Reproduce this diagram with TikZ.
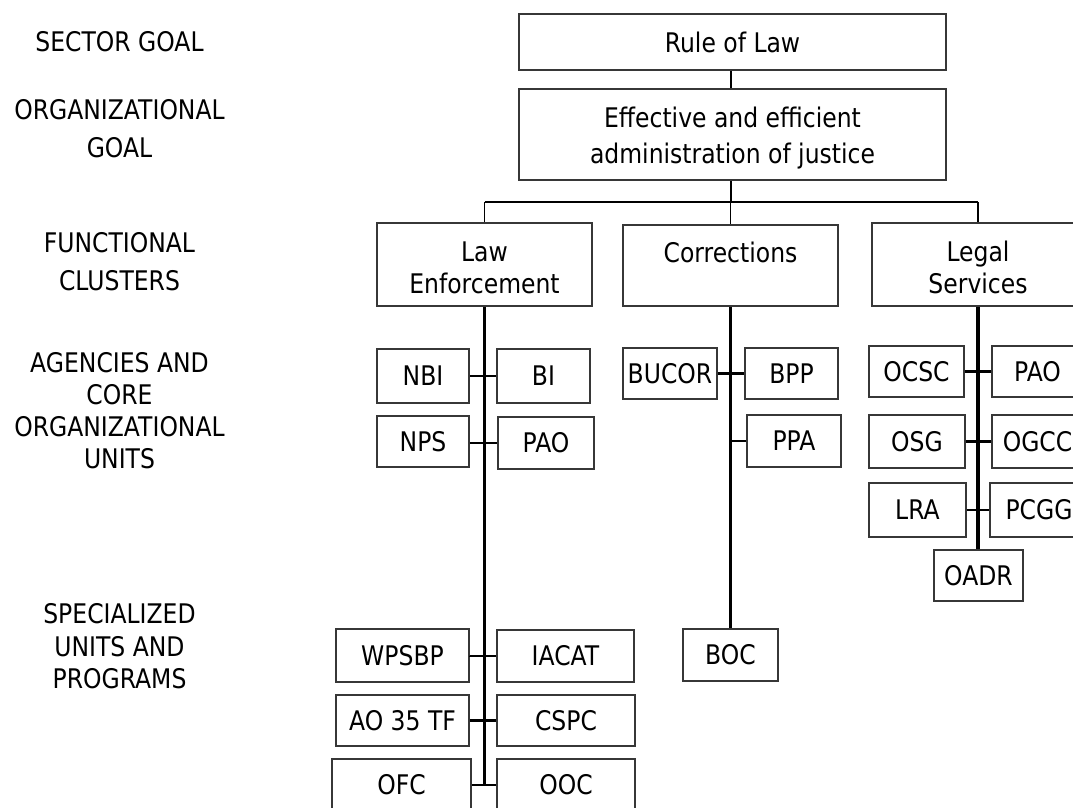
\documentclass[tikz,border=0pt]{standalone}
\usepackage{fontspec}
\setmainfont{DejaVu Sans}[FakeStretch=0.87]
\definecolor{boxgray}{RGB}{55,55,55}
\newcommand\fsz[1]{\fontsize{27}{#1}\selectfont}
\tikzset{
  boxn/.style={draw=boxgray, line width=1.6pt, rectangle, inner sep=0pt, font={\fsz{32}}},
  txt/.style={align=center, inner sep=0pt},
  conn/.style={line width=1.6pt, draw=black},
  side/.style={line width=2.2pt, draw=black},
  busline/.style={line width=2.4pt, draw=black},
  trunk/.style={line width=3.4pt, draw=black}
}
\begin{document}
\begin{tikzpicture}[x=1pt,y=-1pt]
\useasboundingbox (0,0) rectangle (1073,807);
\clip (0,0) rectangle (1073,807);
% left labels
\node[txt, font={\fsz{32}}] (l1) at (119.5,42) {SECTOR GOAL};
\node[txt, font={\fsz{37.5}}] (l2) at (119.5,128.5) {ORGANIZATIONAL\\GOAL};
\node[txt, font={\fsz{38}}] (l3) at (119.5,262) {FUNCTIONAL\\CLUSTERS};
\node[txt, font={\fsz{32.1}}] (l4) at (119.5,410.7) {AGENCIES AND\\CORE\\ORGANIZATIONAL\\UNITS};
\node[txt, font={\fsz{32.5}}] (l5) at (119.5,646.5) {SPECIALIZED\\UNITS AND\\PROGRAMS};
% top boxes
\node[boxn, minimum width=427pt, minimum height=56pt] (rule) at (732.5,42) {Rule of Law};
\node[boxn, minimum width=427pt, minimum height=91pt] (eff) at (732.5,134.5) {};
\node[txt, font={\fsz{36}}] (efft) at (732.5,137.6) {Effective and efficient\\administration of justice};
% clusters
\node[boxn, minimum width=215pt, minimum height=83pt] (law) at (484.5,264.5) {};
\node[txt, font={\fsz{32}}] (lawt) at (484.5,268.1) {Law\\Enforcement};
\node[boxn, minimum width=215pt, minimum height=81pt] (corr) at (730.5,265.5) {};
\node[txt, font={\fsz{32}}] (corrt) at (730.5,252.9) {Corrections};
\node[boxn, minimum width=212pt, minimum height=83pt] (legal) at (978,264.5) {};
\node[txt, font={\fsz{32}}] (legalt) at (978,267.75) {Legal\\Services};
% agencies - law enforcement
\node[boxn, minimum width=92pt, minimum height=54pt] (nbi) at (423,376) {NBI};
\node[boxn, minimum width=93pt, minimum height=54pt] (bi) at (543.5,376) {BI};
\node[boxn, minimum width=92pt, minimum height=51pt] (nps) at (423,441.5) {NPS};
\node[boxn, minimum width=96pt, minimum height=52pt] (pao1) at (546,443) {PAO};
% agencies - corrections
\node[boxn, minimum width=94pt, minimum height=51pt] (bucor) at (670,373.5) {BUCOR};
\node[boxn, minimum width=93pt, minimum height=51pt] (bpp) at (791.5,373.5) {BPP};
\node[boxn, minimum width=94pt, minimum height=52pt] (ppa) at (794,441) {PPA};
% agencies - legal services
\node[boxn, minimum width=95pt, minimum height=51pt] (ocsc) at (916.5,371.5) {OCSC};
\node[boxn, minimum width=91pt, minimum height=51pt] (pao2) at (1037.5,371.5) {PAO};
\node[boxn, minimum width=96pt, minimum height=53pt] (osg) at (917,441.5) {OSG};
\node[boxn, minimum width=91pt, minimum height=53pt] (ogcc) at (1037.5,441.5) {OGCC};
\node[boxn, minimum width=97pt, minimum height=54pt] (lra) at (917.5,510) {LRA};
\node[boxn, minimum width=98pt, minimum height=54pt] (pcgg) at (1039,510) {PCGG};
\node[boxn, minimum width=89pt, minimum height=51pt] (oadr) at (978.5,575.5) {OADR};
% specialized units
\node[boxn, minimum width=133pt, minimum height=53pt] (wpsbp) at (402.5,655.5) {WPSBP};
\node[boxn, minimum width=137pt, minimum height=52pt] (iacat) at (565.5,656) {IACAT};
\node[boxn, minimum width=133pt, minimum height=51pt] (ao35) at (402.5,720.5) {AO 35 TF};
\node[boxn, minimum width=138pt, minimum height=51pt] (cspc) at (566,720.5) {CSPC};
\node[boxn, minimum width=139pt, minimum height=52pt] (ofc) at (401.5,785) {OFC};
\node[boxn, minimum width=138pt, minimum height=52pt] (ooc) at (566,785) {OOC};
\node[boxn, minimum width=95pt, minimum height=52pt] (boc) at (730.5,655) {BOC};
% connectors top
\coordinate (hub) at (731,202);
\draw[conn] (hub |- rule.south) -- (hub |- eff.north);
\draw[line width=2.6pt] (hub |- eff.south) -- (hub);
\draw[busline] (law.north |- hub) -- (legal.north |- hub);
\draw[conn] (law.north |- hub) -- (law.north);
\draw[conn] (corr.north |- hub) -- (corr.north);
\draw[conn] (legal.north |- hub) -- (legal.north);
% trunks
\draw[trunk] (law.south) -- (law.south |- ofc.east);
\draw[line width=2.8pt] (corr.south) -- (boc.north);
\draw[trunk] (legal.south) -- (legal.south |- oadr.north);
% side connectors
\draw[side] (nbi.east) -- (bi.west);
\draw[side] (pao1.west -| nps.east) -- (pao1.west);
\draw[side] (bucor.east) -- (bpp.west);
\draw[side] (ppa.west) -- (ppa.west -| corr.south);
\draw[side] (ocsc.east) -- (pao2.west);
\draw[side] (osg.east) -- (ogcc.west);
\draw[side] (lra.east) -- (pcgg.west);
\draw[side] (wpsbp.east) -- (iacat.west -| wpsbp.east) -- (iacat.west);
\draw[side] (ao35.east) -- (cspc.west);
\draw[side] (ofc.east) -- (ooc.west);
\end{tikzpicture}
\end{document}
